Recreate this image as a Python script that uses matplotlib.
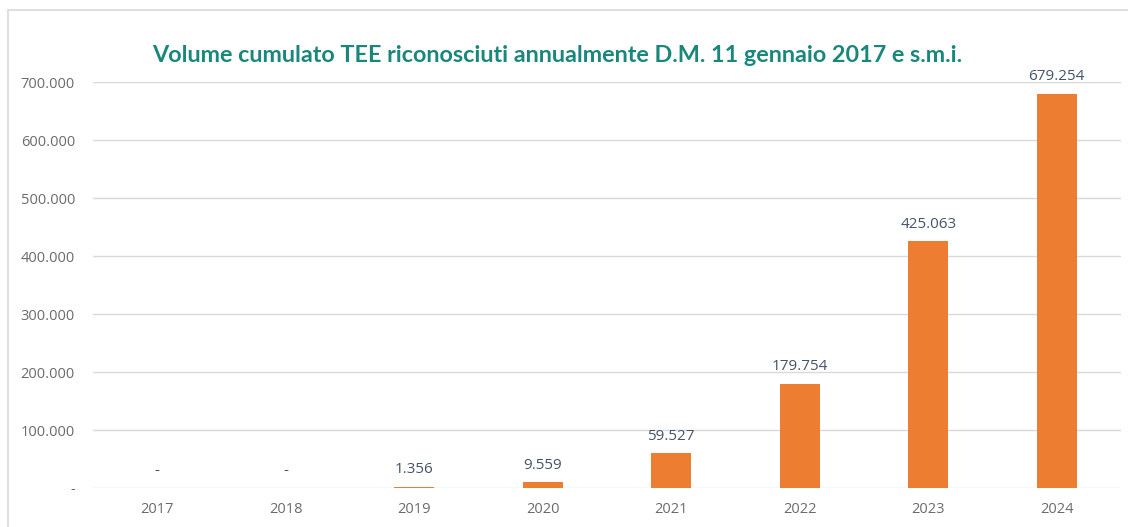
import matplotlib
matplotlib.use("Agg")
import matplotlib.pyplot as plt
from matplotlib.patches import Rectangle

years = ["2017", "2018", "2019", "2020", "2021", "2022", "2023", "2024"]
values = [0, 0, 1356, 9559, 59527, 179754, 425063, 679254]
yticks = [0, 100000, 200000, 300000, 400000, 500000, 600000, 700000]
title = "Volume cumulato TEE riconosciuti annualmente D.M. 11 gennaio 2017 e s.m.i."

def fmt(v):
    if v == 0:
        return "-"
    return f"{v:,.0f}".replace(",", ".")

W, H = 1128, 527
fig = plt.figure(figsize=(W / 100, H / 100), dpi=100)
fig.patch.set_facecolor("white")
fig.patches.append(Rectangle((8 / W, -0.1), 1.2, 1 - 10 / H + 0.1, transform=fig.transFigure,
                             fill=False, edgecolor="#d9d9d9", linewidth=1.2))

ax = fig.add_axes([93 / W, 1 - 488 / H, (1121 - 93) / W, (488 - 82) / H])
x = list(range(len(years)))
ax.bar(x, values, width=0.31, color="#ed7d31", zorder=3)
ax.set_xlim(-0.5, len(years) - 0.5)
ax.set_ylim(0, 700000)
ax.set_yticks(yticks)
ax.set_yticklabels([fmt(v) for v in yticks], fontsize=10.5, color="#6b6b6b", family="Open Sans")
ax.set_xticks(x)
ax.set_xticklabels(years, fontsize=10.5, color="#6b6b6b", family="Open Sans")
ax.tick_params(axis="both", length=0)
ax.tick_params(axis="y", pad=13)
ax.tick_params(axis="x", pad=10)
ax.grid(axis="y", color="#d9d9d9", linewidth=1.0, zorder=0)
for s in ax.spines.values():
    s.set_visible(False)

for xi, v in zip(x, values):
    ax.annotate(fmt(v), (xi, v), xytext=(0, 7), textcoords="offset points",
                ha="center", va="bottom", fontsize=11, color="#44546a", family="Open Sans")

fig.text(557 / W, 1 - 55 / H, title, ha="center", va="center", fontsize=16.8,
         fontweight="bold", color="#1a877c", family="Lato")

fig.savefig("out.png", dpi=100)
